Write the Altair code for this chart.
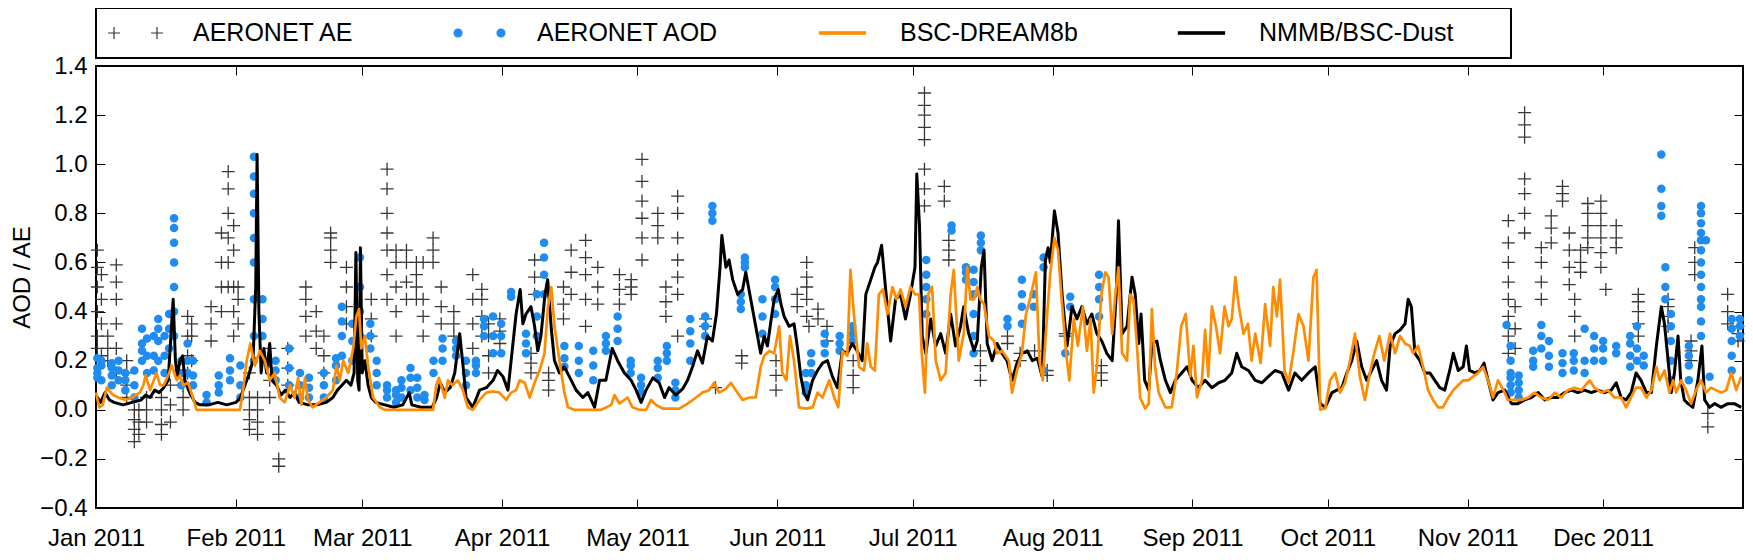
import altair as alt
import pandas as pd

# ---------------- data ----------------
names = ["AERONET AE", "AERONET AOD", "BSC-DREAM8b", "NMMB/BSC-Dust"]
colors = ["#383838", "#1e8cf0", "#ff8c00", "#000000"]

month_start_days = [0, 31, 59, 90, 120, 151, 181, 212, 243, 273, 304, 334]
y_ticks = [-0.4, -0.2, 0.0, 0.2, 0.4, 0.6, 0.8, 1.0, 1.2, 1.4]

# day-of-year (0 = 1 Jan 2011) and value pairs for the two model lines
nmmb = [(0,0.06),(1,0.03),(2,0.07),(3,0.04),(4,0.03),(6,0.02),(8,0.03),(10,0.04),(11,0.06),(12,0.05),(13,0.08),(14,0.07),(15,0.09),(16,0.12),(16.6,0.3),(17.1,0.45),(17.6,0.2),(18,0.14),(18.6,0.2),(19.2,0.22),(19.7,0.12),(20.3,0.09),(21,0.06),(22,0.03),(23,0.02),(25,0.02),(27,0.03),(29,0.02),(31,0.03),(32,0.05),(33,0.1),(34,0.15),(34.8,0.2),(35.4,0.5),(35.7,1.04),(36.1,0.4),(36.6,0.15),(37.2,0.25),(37.8,0.15),(38.5,0.27),(39,0.12),(40,0.1),(41,0.06),(42,0.08),(43,0.05),(44,0.07),(45,0.03),(47,0.02),(49,0.02),(51,0.03),(52.5,0.05),(53.5,0.08),(54.5,0.1),(55.5,0.12),(56.5,0.1),(57.2,0.15),(57.6,0.64),(58,0.12),(58.3,0.08),(58.6,0.66),(59,0.15),(59.6,0.2),(60.3,0.1),(61,0.05),(62,0.03),(64,0.02),(66,0.01),(68,0.02),(69.4,0.07),(70,0.02),(72,0.01),(74.5,0.01),(75.5,0.05),(76.3,0.11),(77.3,0.07),(78.5,0.09),(79.5,0.15),(80.6,0.31),(81.5,0.15),(82,0.05),(83.5,0.01),(85,0.08),(86.5,0.09),(88,0.12),(89,0.16),(90.2,0.135),(91.3,0.08),(92,0.2),(93.1,0.39),(94,0.49),(94.6,0.35),(95.3,0.39),(96.4,0.42),(97.2,0.34),(97.9,0.24),(98.6,0.3),(99.5,0.47),(100.1,0.53),(100.9,0.33),(101.6,0.2),(102.7,0.15),(103.8,0.175),(104.9,0.135),(106.4,0.08),(107.9,0.05),(109,0.07),(110.5,0.01),(111.6,0.12),(113,0.12),(114.4,0.25),(115.6,0.2),(117.1,0.15),(118.6,0.12),(119.7,0.08),(120.8,0.03),(121.9,0.08),(123.4,0.13),(124.8,0.11),(126,0.05),(127,0.09),(128.5,0.06),(130,0.085),(131.1,0.12),(132.2,0.175),(133.3,0.24),(134.4,0.19),(135.5,0.3),(136.6,0.28),(137.5,0.39),(138.3,0.58),(138.7,0.71),(139.6,0.58),(140.3,0.61),(141.1,0.53),(142.2,0.47),(143.3,0.49),(144,0.56),(145.1,0.45),(146.2,0.34),(147.3,0.23),(148.1,0.3),(148.8,0.26),(149.6,0.365),(150.3,0.45),(151.2,0.49),(151.8,0.43),(152.5,0.38),(153.6,0.34),(154.7,0.35),(155.4,0.26),(156.2,0.135),(156.9,0.07),(157.7,0.04),(158.8,0.12),(159.9,0.16),(161,0.19),(162.1,0.2),(163.2,0.135),(164.3,0.09),(165.4,0.24),(166.5,0.23),(167.6,0.27),(168.7,0.24),(169.8,0.2),(170.6,0.47),(171.7,0.53),(172.6,0.58),(173.2,0.6),(174.1,0.67),(175,0.49),(176.1,0.28),(177.2,0.45),(178.3,0.47),(179.4,0.37),(180.5,0.47),(181.5,0.58),(181.9,0.96),(182.5,0.75),(183.1,0.3),(183.9,0.23),(185,0.37),(186.1,0.26),(187.2,0.31),(188.3,0.23),(189.4,0.39),(190.5,0.26),(191.6,0.34),(192.3,0.42),(193.4,0.31),(194.6,0.24),(195.3,0.28),(196.2,0.58),(196.8,0.65),(197.5,0.27),(198.6,0.2),(199.7,0.27),(200.8,0.23),(201.9,0.2),(203,0.12),(204.1,0.19),(205.2,0.23),(206.4,0.24),(207.5,0.2),(208.6,0.21),(209.7,0.135),(210.4,0.61),(211,0.66),(211.5,0.6),(212.4,0.81),(213.2,0.72),(214.1,0.47),(215.2,0.26),(216.3,0.42),(217.4,0.37),(218.5,0.42),(219.6,0.35),(220.7,0.39),(221.8,0.31),(222.9,0.28),(224,0.23),(225.2,0.2),(226.1,0.47),(226.6,0.77),(227.4,0.31),(228.5,0.34),(229.6,0.54),(230.3,0.47),(231.1,0.27),(231.6,0.39),(232.4,0.12),(233.3,0.08),(234,0.27),(235.1,0.28),(235.9,0.2),(237,0.12),(238.1,0.07),(239.2,0.12),(240.6,0.15),(241.8,0.175),(242.9,0.12),(244.3,0.09),(245.8,0.12),(247.3,0.09),(248.8,0.11),(250.2,0.12),(251.7,0.15),(252.8,0.23),(253.9,0.175),(255.4,0.16),(256.9,0.12),(258.4,0.11),(259.8,0.135),(261.3,0.16),(262.8,0.15),(264.3,0.08),(265.7,0.15),(267.2,0.12),(268.7,0.15),(270.2,0.175),(271.3,0.025),(272.4,0.01),(273.9,0.07),(275,0.08),(276.1,0.09),(277.2,0.15),(278.3,0.2),(279.4,0.28),(280.5,0.175),(281.6,0.12),(282.7,0.16),(283.8,0.2),(284.9,0.12),(286,0.08),(286.8,0.26),(287.9,0.31),(289,0.325),(290.1,0.35),(290.8,0.45),(291.5,0.42),(292.3,0.23),(293.4,0.2),(294.5,0.15),(295.6,0.15),(296.7,0.12),(297.8,0.09),(298.9,0.08),(300,0.16),(300.8,0.23),(301.9,0.16),(303,0.175),(303.7,0.26),(304.4,0.16),(305.6,0.15),(306.7,0.16),(307.6,0.19),(308.5,0.12),(309.6,0.04),(310.7,0.07),(312.2,0.08),(313.7,0.025),(315.1,0.025),(316.6,0.04),(318.1,0.05),(319.6,0.07),(321.1,0.04),(322.5,0.05),(324,0.05),(325.5,0.07),(327,0.08),(328.4,0.07),(329.9,0.08),(331.4,0.07),(332.9,0.08),(334.3,0.07),(335.8,0.08),(336.9,0.11),(338,0.05),(339.1,0.04),(340.2,0.07),(341.3,0.15),(342.4,0.12),(343.6,0.07),(344.7,0.07),(345.8,0.26),(346.9,0.42),(347.6,0.35),(348.4,0.2),(349.1,0.07),(349.8,0.15),(350.6,0.3),(351.2,0.12),(352,0.04),(352.8,0.025),(353.9,0.01),(355,0.12),(355.9,0.26),(356.5,0.04),(357.6,0.01),(358.7,0.025),(360.2,0.01),(361.6,0.025),(363.1,0.025),(364.6,0.01)]

bsc = [(0,0.07),(0.7,0.01),(1.5,0.02),(2.4,0.09),(3.8,0.06),(5,0.05),(6.5,0.04),(8,0.05),(9.7,0.07),(10.5,0.1),(11,0.14),(12,0.08),(13.4,0.15),(14.2,0.1),(15,0.1),(16,0.14),(16.8,0.18),(17.9,0.12),(18.6,0.14),(19.3,0.1),(20.4,0.11),(21.3,0.06),(22.3,0.0),(25,0.0),(28,0.0),(31.9,0.0),(32.6,0.08),(33.4,0.2),(34.2,0.27),(35.2,0.18),(36.3,0.24),(37.4,0.2),(38.5,0.12),(39.6,0.15),(40.7,0.05),(41.8,0.03),(43,0.1),(44,0.05),(44.8,0.13),(45.5,0.02),(46.3,0.13),(47,0.04),(48,0.01),(49.5,0.03),(51,0.05),(52.5,0.08),(53.3,0.18),(54,0.12),(54.8,0.2),(55.9,0.15),(57,0.25),(57.7,0.38),(58.3,0.41),(58.8,0.25),(59.6,0.3),(60.3,0.18),(61.4,0.05),(62.9,0.01),(64,0.0),(70,0.0),(74.7,0.0),(75.4,0.1),(76,0.13),(77.3,0.05),(78,0.12),(79,0.1),(80.2,0.12),(81.3,0.08),(82.4,0.01),(83.5,0.0),(85,0.04),(86.5,0.07),(88,0.075),(89.4,0.07),(90.9,0.04),(92,0.07),(93.1,0.08),(93.9,0.12),(95,0.11),(96.1,0.05),(97.2,0.11),(98.3,0.16),(99.4,0.23),(100.1,0.41),(100.9,0.5),(101.6,0.34),(102.7,0.2),(103.8,0.07),(104.6,0.01),(106,0.0),(112,0.0),(114.2,0.02),(114.9,0.06),(116,0.025),(117.8,0.05),(118.9,0.01),(120.4,0.0),(121.9,0.0),(123,0.04),(124.1,0.02),(125.6,0.005),(129.3,0.005),(131.1,0.025),(133,0.05),(134.4,0.07),(135.9,0.08),(137,0.11),(138.1,0.07),(139.6,0.085),(140.7,0.11),(141.8,0.08),(143.3,0.04),(144.8,0.05),(146.2,0.05),(147.3,0.175),(148.1,0.22),(149.2,0.24),(150.3,0.23),(151.4,0.34),(152.1,0.15),(153,0.12),(153.8,0.3),(154.7,0.2),(155.8,0.01),(157.3,0.005),(158.8,0.01),(159.9,0.07),(161,0.05),(162.5,0.12),(163.6,0.05),(164.5,0.01),(165.4,0.24),(166.5,0.22),(167.2,0.57),(168,0.38),(169.1,0.175),(170.2,0.16),(170.9,0.27),(171.7,0.175),(172.6,0.16),(173.5,0.47),(174.4,0.49),(175.4,0.39),(176.5,0.5),(177.4,0.45),(178.3,0.49),(179.4,0.42),(180.5,0.5),(181.5,0.47),(182.4,0.47),(183,0.23),(183.7,0.07),(184.4,0.47),(185.3,0.5),(186.1,0.2),(187.2,0.12),(188.3,0.15),(189.4,0.47),(190.1,0.57),(191.2,0.2),(192.3,0.31),(193.1,0.58),(193.8,0.45),(194.6,0.45),(195.3,0.5),(196,0.45),(196.8,0.43),(197.9,0.3),(199,0.28),(199.7,0.23),(200.8,0.24),(202.3,0.2),(203,0.07),(204.1,0.16),(205.2,0.23),(206.1,0.39),(207.1,0.46),(208.3,0.56),(209.1,0.2),(209.8,0.12),(210.8,0.39),(211.5,0.56),(212.4,0.7),(213.2,0.65),(214,0.45),(215,0.23),(215.7,0.12),(216.7,0.37),(217.6,0.26),(218.7,0.42),(219.6,0.24),(220.4,0.37),(221.1,0.07),(221.8,0.175),(222.8,0.47),(223.7,0.56),(224.4,0.54),(225.2,0.31),(225.9,0.47),(226.6,0.58),(227.4,0.23),(228.5,0.2),(229.2,0.47),(229.9,0.45),(230.7,0.26),(231.4,0.05),(232.5,0.005),(233.3,0.025),(234,0.41),(234.7,0.175),(235.5,0.07),(237,0.01),(238.4,0.01),(239.5,0.15),(240.5,0.34),(241.5,0.39),(242.5,0.135),(243.2,0.26),(244,0.05),(245.1,0.12),(245.8,0.325),(246.5,0.135),(247.3,0.42),(248.2,0.34),(249.1,0.23),(250.1,0.42),(251,0.34),(251.7,0.37),(252.5,0.54),(253.2,0.43),(254.3,0.31),(255.3,0.35),(256.1,0.2),(256.9,0.31),(258.1,0.19),(259.1,0.43),(260.2,0.26),(260.9,0.5),(261.7,0.38),(262.4,0.53),(263.4,0.16),(264.3,0.11),(265.4,0.24),(266.5,0.39),(267.6,0.34),(268.7,0.2),(269.8,0.54),(270.5,0.57),(271.3,0.0),(272.4,0.005),(273.5,0.12),(274.6,0.15),(275.7,0.07),(276.8,0.11),(277.9,0.2),(279,0.31),(280.1,0.135),(281.2,0.04),(282.3,0.15),(283.3,0.23),(284.4,0.3),(285.5,0.2),(286.8,0.31),(287.9,0.23),(289,0.3),(290.1,0.27),(291.2,0.26),(291.9,0.23),(293,0.26),(294.1,0.175),(295.2,0.08),(296.3,0.04),(297.4,0.01),(298.5,0.01),(299.7,0.05),(300.8,0.08),(301.9,0.1),(303,0.12),(304.1,0.12),(305.2,0.135),(306.3,0.15),(307.4,0.175),(308.5,0.12),(309.6,0.05),(310.7,0.12),(312.2,0.07),(312.9,0.04),(314.4,0.04),(315.9,0.04),(317.4,0.05),(318.8,0.07),(320.3,0.05),(321.8,0.04),(323.3,0.07),(324.7,0.05),(326.2,0.08),(327.7,0.09),(329.2,0.08),(331,0.12),(332.1,0.09),(333.6,0.07),(335.1,0.08),(336.5,0.05),(338,0.05),(339.1,0.01),(340.2,0.05),(341.3,0.09),(342.4,0.09),(343.6,0.05),(344.7,0.08),(345.8,0.175),(346.5,0.12),(347.6,0.16),(348.7,0.07),(349.5,0.12),(350.2,0.07),(351.3,0.12),(352.4,0.08),(353.5,0.025),(354.6,0.08),(355.7,0.12),(356.8,0.07),(357.9,0.09),(359,0.08),(360.2,0.07),(361.3,0.08),(362.4,0.15),(363.5,0.08),(364.6,0.135)]

# AERONET observations: (day, [values measured that day])
aod_obs = [(0.3,[0.13,0.17,0.21,0.15]),(1.2,[0.12,0.18,0.2]),(3.5,[0.1,0.14,0.19,0.17]),(5,[0.12,0.2,0.16]),(6.5,[0.08,0.12,0.15]),(8.5,[0.05,0.1,0.16]),(10.2,[0.2,0.27,0.33,0.24]),(11.3,[0.15,0.22,0.29]),(12.8,[0.16,0.22,0.3]),(13.8,[0.2,0.28,0.37,0.33]),(15.2,[0.15,0.22,0.3]),(16.2,[0.25,0.33,0.39]),(17.3,[0.3,0.4,0.5,0.6,0.68,0.74,0.78]),(18.9,[0.1,0.15,0.2]),(20.3,[0.15,0.2,0.27]),(21.5,[0.1,0.14,0.2]),(24.5,[0.03,0.06]),(27.2,[0.07,0.1,0.14]),(29.7,[0.12,0.16,0.21]),(32,[0.05,0.1,0.18]),(35,[0.2,0.3,0.45,0.6,0.7,0.8,0.88,0.95,1.03]),(36.9,[0.3,0.37,0.45]),(39.8,[0.12,0.16,0.2]),(42.8,[0.1,0.17,0.25]),(45.2,[0.05,0.1,0.15]),(47.2,[0.05,0.09,0.13]),(50.5,[0.05,0.1,0.15]),(53.2,[0.12,0.18,0.21]),(54.5,[0.22,0.3,0.36,0.42]),(56.8,[0.2,0.28,0.35]),(58.5,[0.3,0.4,0.5,0.62]),(60.8,[0.25,0.3,0.35]),(62.2,[0.1,0.15,0.2]),(64.5,[0.05,0.08,0.1]),(66.5,[0.03,0.06,0.08]),(67.7,[0.05,0.09,0.12]),(69.7,[0.08,0.13,0.17]),(71.2,[0.05,0.09,0.13]),(72.8,[0.04,0.06]),(74.8,[0.15,0.2]),(76.8,[0.2,0.25,0.29]),(79.8,[0.22,0.25,0.28]),(82,[0.1,0.15,0.2]),(84.2,[0.15,0.18,0.2]),(86,[0.3,0.34,0.37]),(88,[0.23,0.3,0.38]),(89.8,[0.23,0.3,0.35]),(92,[0.46,0.48]),(95.3,[0.23,0.27,0.31]),(97.7,[0.3,0.38,0.47]),(99.3,[0.47,0.55,0.62,0.68]),(103.8,[0.175,0.21,0.26]),(107,[0.15,0.2,0.26]),(110.2,[0.12,0.18,0.24]),(113,[0.24,0.27,0.3]),(115.6,[0.28,0.33,0.38]),(118.5,[0.15,0.18,0.2]),(120.8,[0.07,0.1,0.13]),(124.5,[0.13,0.17,0.2]),(126.5,[0.2,0.23,0.26]),(128.4,[0.05,0.08,0.11]),(131.7,[0.2,0.27,0.32,0.37]),(135,[0.3,0.34,0.38]),(136.6,[0.77,0.8,0.83]),(142.9,[0.41,0.44,0.47]),(143.8,[0.58,0.6,0.62]),(147.7,[0.31,0.38,0.45]),(150.5,[0.39,0.45,0.5,0.53]),(157.3,[0.07,0.1,0.15]),(158.5,[0.15,0.19,0.23]),(161.5,[0.23,0.27,0.31]),(164.8,[0.24,0.27,0.3]),(167.6,[0.28,0.31,0.34]),(184,[0.39,0.45,0.5,0.55,0.61]),(189.6,[0.73,0.75]),(192.8,[0.53,0.56,0.58]),(194.5,[0.23,0.3,0.39,0.47,0.52,0.57]),(196.1,[0.65,0.68,0.71]),(202,[0.34,0.37]),(205.2,[0.35,0.42,0.47,0.53]),(207.8,[0.42,0.47]),(210,[0.16,0.58,0.62]),(214.8,[0.23]),(215.9,[0.42,0.46]),(222.3,[0.38,0.45,0.5,0.55]),(312.6,[0.345]),(313.5,[0.07,0.1,0.13,0.15,0.2,0.26]),(315.3,[0.05,0.08,0.11,0.14]),(318.5,[0.175,0.2,0.24]),(320.3,[0.345,0.3,0.25]),(322,[0.175,0.22,0.28]),(325,[0.15,0.19,0.23]),(327.5,[0.16,0.2,0.23]),(329.9,[0.33,0.2,0.15]),(332,[0.2,0.25,0.3]),(334,[0.2,0.25,0.28]),(336.9,[0.23,0.26]),(340,[0.175,0.22,0.27,0.3]),(341.5,[0.34,0.25,0.2]),(343,[0.18,0.22]),(346.9,[0.79,0.83,0.9,1.04]),(347.8,[0.45,0.5,0.58]),(349,[0.12,0.2,0.28,0.34,0.39]),(353,[0.12,0.18,0.22,0.26]),(355.7,[0.3,0.36,0.42,0.45,0.5,0.55,0.6,0.65,0.69,0.72,0.76,0.8,0.83]),(356.8,[0.69]),(357.6,[0.135]),(362.5,[0.16,0.22,0.28,0.33,0.37]),(364.3,[0.3,0.34,0.37])]

ae_obs = [(0.3,[0.3,0.4,0.5,0.58,0.65,0.25]),(1.2,[0.22,0.35,0.45,0.55]),(2.6,[0.2,0.25,0.3]),(4.5,[0.15,0.25,0.35,0.45,0.52,0.59]),(6.8,[0.05,0.1,0.15,0.2]),(8.5,[-0.13,-0.08,-0.04,0.0]),(9.5,[-0.1,-0.05,0.0]),(11.2,[-0.05,0.0,0.05]),(14.5,[-0.1,-0.06,0.0,0.05]),(16.5,[-0.05,0.02,0.1]),(19.3,[0.0,0.05,0.1]),(20.3,[0.15,0.22,0.3,0.38]),(21.2,[0.2,0.3,0.35]),(25.5,[0.28,0.35,0.42]),(27.8,[0.4,0.5,0.6,0.72]),(29.3,[0.5,0.6,0.7,0.8,0.9,0.97]),(30.5,[0.3,0.4,0.5,0.65,0.75]),(31.5,[0.35,0.45,0.5]),(34,[-0.08,-0.04,0.0,0.05,0.15]),(35.8,[-0.1,-0.05,0.0,0.05]),(38.5,[0.05,0.12,0.2,0.25]),(40.5,[-0.2,-0.23,-0.1,-0.05]),(42.5,[0.1,0.17,0.25]),(46.5,[0.3,0.38,0.45,0.5]),(48.8,[0.25,0.32,0.4]),(50.5,[0.15,0.22,0.3]),(52,[0.6,0.65,0.7,0.72]),(55.5,[0.35,0.42,0.5,0.58]),(61,[0.3,0.37,0.45]),(64.5,[0.45,0.55,0.65,0.72,0.8,0.9,0.98]),(66.5,[0.3,0.4,0.5,0.6,0.65]),(68.8,[0.45,0.52,0.6,0.65]),(71,[0.45,0.5,0.55,0.6]),(72.5,[0.3,0.38,0.45,0.6]),(74.7,[0.6,0.65,0.7]),(76.5,[0.35,0.42,0.5]),(79.3,[0.3,0.35,0.4]),(83.5,[0.25,0.35,0.45,0.55]),(85.5,[0.3,0.38,0.45,0.49]),(87,[0.15,0.22,0.3,0.35]),(89.5,[0.27,0.32,0.37]),(96.4,[0.15,0.19,0.23]),(97.2,[0.47,0.54,0.61]),(100.3,[0.08,0.12,0.15]),(103.6,[0.37,0.43,0.5]),(105.3,[0.47,0.56,0.65]),(108.5,[0.34,0.45,0.55,0.62,0.69]),(111.2,[0.43,0.5,0.58]),(116,[0.43,0.49,0.55]),(118.6,[0.47,0.5,0.53]),(121,[0.61,0.7,0.78,0.85,0.93,1.02]),(124.5,[0.7,0.75,0.8]),(126.3,[0.38,0.44,0.5]),(128.9,[0.3,0.47,0.54,0.61,0.7,0.8,0.87]),(135.1,[0.34,0.37]),(137.3,[0.09]),(143.1,[0.19,0.22]),(150.7,[0.08,0.14,0.2]),(155.4,[0.42,0.47]),(157.5,[0.38,0.45,0.5,0.54,0.6]),(158,[0.34]),(160,[0.37,0.41]),(162,[0.28,0.34]),(167.8,[0.09,0.14,0.2]),(183.6,[0.83,0.9,0.98,1.1,1.15,1.2,1.24,1.29]),(188,[0.85,0.91]),(189,[0.61,0.65,0.69]),(196,[0.12,0.18,0.24]),(202,[0.27,0.3]),(204.8,[0.2,0.23]),(208,[0.24]),(210.8,[0.14,0.16]),(214.8,[0.3,0.31]),(222.8,[0.12,0.15,0.18]),(313,[0.23,0.3,0.38,0.45,0.52,0.6,0.68,0.77]),(314.5,[0.25,0.33,0.42]),(316.6,[0.72,0.8,0.88,0.94,1.11,1.16,1.21]),(320.3,[0.45,0.52,0.6,0.66]),(322.5,[0.68,0.74,0.79]),(325,[0.85,0.88,0.91]),(326.5,[0.51,0.58,0.65,0.72]),(327.7,[0.3,0.38,0.45]),(329,[0.56,0.6,0.65]),(330.6,[0.66,0.7,0.75,0.8,0.84]),(333.5,[0.58,0.64,0.7,0.75,0.8,0.85]),(334.6,[0.49]),(336.9,[0.66,0.7,0.75]),(341.8,[0.3,0.35,0.4,0.44,0.47]),(348.4,[0.34,0.38,0.42,0.45]),(353.5,[0.2,0.24,0.28]),(354.3,[0.55,0.6,0.66]),(357.2,[-0.015,-0.07]),(361.6,[0.35,0.4,0.47]),(363.9,[0.28,0.31,0.34])]

# ---------------- tables ----------------
def obs_table(obs):
    return pd.DataFrame([(d, v) for d, vals in obs for v in vals], columns=["d", "v"])

ae_df = obs_table(ae_obs)
aod_df = obs_table(aod_obs)
bsc_df = pd.DataFrame(bsc, columns=["d", "v"]).assign(series=names[2])
nmmb_df = pd.DataFrame(nmmb, columns=["d", "v"]).assign(series=names[3])

DAY_MS = 86400000
T0 = 1293840000000          # 2011-01-01T00:00Z
T1 = T0 + 365 * DAY_MS      # 2012-01-01T00:00Z
month_ticks = [T0 + m * DAY_MS for m in month_start_days]

FONT = "Liberation Sans"
W, H = 1647, 442

x_enc = alt.X(
    "t:T",
    scale=alt.Scale(type="utc", domain=[T0, T1]),
    axis=alt.Axis(
        values=month_ticks, format="%b %Y", title=None,
        grid=True, gridColor="black", gridOpacity=1, gridWidth=1,
        gridDash=[9, H - 18, 9, 4000],
        ticks=False, domain=False, labelOverlap=False, labelFlush=False,
        labelFont=FONT, labelFontSize=24, labelColor="black",
        labelBaseline="alphabetic", labelPadding=37,
    ),
)
y_enc = alt.Y(
    "v:Q",
    scale=alt.Scale(domain=[-0.4, 1.4], nice=False, zero=False),
    axis=alt.Axis(
        values=y_ticks, format=".1f", title="AOD / AE",
        grid=True, gridColor="black", gridOpacity=1, gridWidth=1,
        gridDash=[9, W - 18, 9, 4000],
        ticks=False, domain=False,
        labelFont=FONT, labelFontSize=24, labelColor="black", labelPadding=9,
        titleFont=FONT, titleFontSize=24, titleFontWeight="normal", titleColor="black",
        titleX=-74, titleY=211, titleBaseline="middle", titleAlign="center", titleAngle=270,
    ),
)

to_time = "utc(2011, 0, 1) + datum.d * 86400000"

# legend symbols (unit = 12 px with symbolSize 576)
sym_paths = {
    names[0]: "M-2.29,0H-1.29M-1.79,-0.5V0.5M1.29,0H2.29M1.79,-0.5V0.5",
    names[1]: "M-2.12,0A0.33,0.33,0,1,1,-1.46,0A0.33,0.33,0,1,1,-2.12,0ZM1.46,0A0.33,0.33,0,1,1,2.12,0A0.33,0.33,0,1,1,1.46,0Z",
    names[2]: "M-1.92,-0.1H1.92V0.1H-1.92Z",
    names[3]: "M-1.92,-0.1H1.92V0.1H-1.92Z",
}
shape_expr = (
    f"datum.value === '{names[0]}' ? '{sym_paths[names[0]]}' : "
    f"datum.value === '{names[1]}' ? '{sym_paths[names[1]]}' : '{sym_paths[names[2]]}'"
)
fill_expr = (
    f"datum.value === '{names[0]}' ? 'transparent' : "
    f"datum.value === '{names[1]}' ? '{colors[1]}' : "
    f"datum.value === '{names[2]}' ? '{colors[2]}' : '{colors[3]}'"
)

legend = alt.Legend(
    orient="none", legendX=0, legendY=-58,
    direction="horizontal", columns=4, gridAlign="each",
    padding=12, strokeColor="black", fillColor="white",
    columnPadding=96, rowPadding=0,
    labelFont=FONT, labelFontSize=25, labelColor="black", labelLimit=600,
    labelOffset=44.5, symbolOffset=14.5, symbolSize=576, symbolStrokeWidth=1.2,
    symbolType=alt.ExprRef(expr=shape_expr),
    symbolFillColor=alt.ExprRef(expr=fill_expr),
    title="\u00a0", titleOrient="right", titlePadding=46, titleFontSize=24,
)
color_enc = alt.Color("series:N", scale=alt.Scale(domain=names, range=colors), legend=legend)

ae_layer = alt.Chart(ae_df).transform_calculate(t=to_time).mark_point(
    shape="M-1,0H1M0,-1V1", filled=False, size=169, strokeWidth=1.3,
    color=colors[0], opacity=1,
).encode(x=x_enc, y=y_enc)

aod_layer = alt.Chart(aod_df).transform_calculate(t=to_time).mark_circle(
    size=72, color=colors[1], opacity=1,
).encode(x=x_enc, y=y_enc)

nmmb_layer = alt.Chart(nmmb_df).transform_calculate(t=to_time).mark_line(
    strokeWidth=3, strokeJoin="round",
).encode(x=x_enc, y=y_enc, color=color_enc)

bsc_layer = alt.Chart(bsc_df).transform_calculate(t=to_time).mark_line(
    strokeWidth=2.7, strokeJoin="round",
).encode(x=x_enc, y=y_enc, color=color_enc)

chart = alt.layer(ae_layer, aod_layer, nmmb_layer, bsc_layer).properties(
    width=W, height=H,
    padding={"left": 88, "top": 58, "right": 2, "bottom": 44},
    autosize=alt.AutoSizeParams(type="none"),
).configure(font=FONT).configure_view(
    stroke="black", strokeWidth=2
).configure_legend(strokeWidth=2)

chart.save("out.html", embed_options={"renderer": "svg", "actions": False})
